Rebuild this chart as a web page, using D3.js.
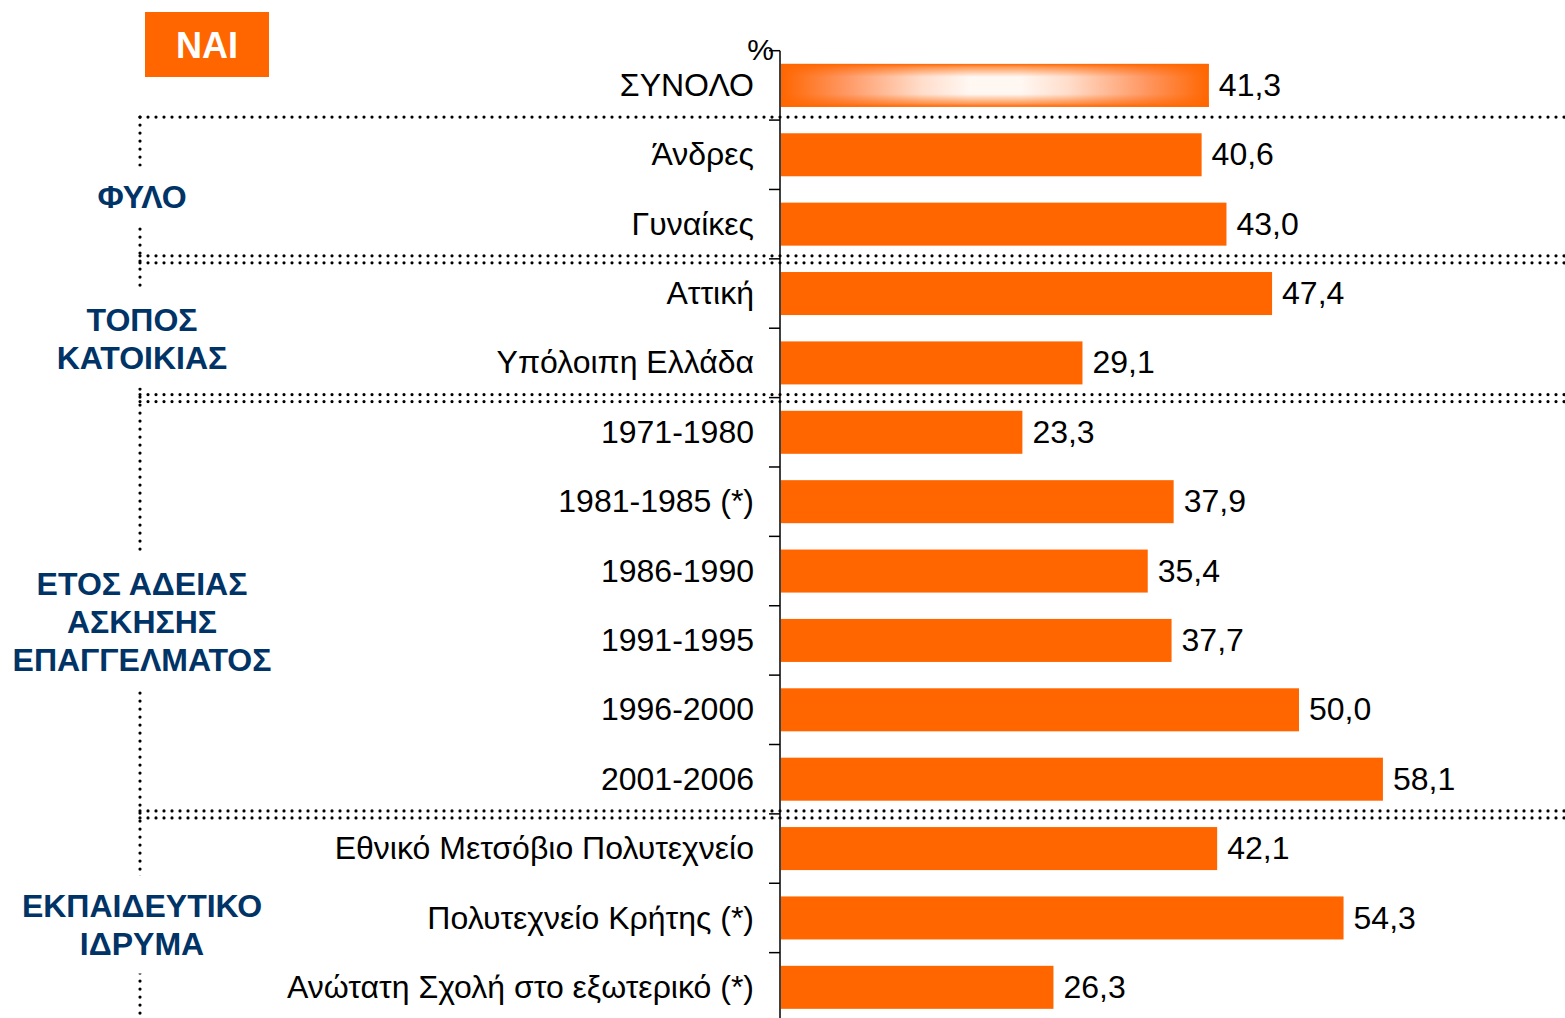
<!DOCTYPE html>
<meta charset="utf-8">
<script src="https://d3js.org/d3.v7.min.js"></script>
<style>
  body { margin: 0; background: #fff; }
  text { font-family: Arial, "Liberation Sans", sans-serif; }
</style>
<div id="chart"></div>
<script>
// categories and values (%)
var categories = ["ΣΥΝΟΛΟ", "Άνδρες", "Γυναίκες", "Αττική", "Υπόλοιπη Ελλάδα",
  "1971-1980", "1981-1985 (*)", "1986-1990", "1991-1995", "1996-2000", "2001-2006",
  "Εθνικό Μετσόβιο Πολυτεχνείο", "Πολυτεχνείο Κρήτης (*)", "Ανώτατη Σχολή στο εξωτερικό (*)"];
var values = [41.3, 40.6, 43.0, 47.4, 29.1, 23.3, 37.9, 35.4, 37.7, 50.0, 58.1, 42.1, 54.3, 26.3];

// groups: label lines and the category index where each group starts
var groupLabels = [["ΦΥΛΟ"], ["ΤΟΠΟΣ", "ΚΑΤΟΙΚΙΑΣ"], ["ΕΤΟΣ ΑΔΕΙΑΣ", "ΑΣΚΗΣΗΣ", "ΕΠΑΓΓΕΛΜΑΤΟΣ"], ["ΕΚΠΑΙΔΕΥΤΙΚΟ", "ΙΔΡΥΜΑ"]];
var groupStart = [1, 3, 5, 11];

var W = 1565, H = 1018;
var orange = "#FF6600", navy = "#003366";
var labelCenters = [196, 338, 621, 924];

var svg = d3.select("#chart").append("svg")
  .attr("width", W).attr("height", H);

var y = d3.scaleBand()
  .domain(categories)
  .range([50.7, 50.7 + 14 * 69.38])
  .paddingInner(0.38)
  .paddingOuter(0.19);

var x = d3.scaleLinear()
  .domain([0, 60])
  .range([781, 781 + 621.6]);

var step = y.step();
function boundary(i) { return y.range()[0] + i * step; }

// gradient for the total bar
var defs = svg.append("defs");
var gh = defs.append("linearGradient").attr("id", "gh");
[[0, orange], [0.15, "#ff9a68"], [0.33, "#ffe4d6"], [0.44, "#ffffff"], [0.56, "#ffffff"], [0.67, "#ffe4d6"], [0.85, "#ff9a68"], [1, orange]]
  .forEach(function(s) { gh.append("stop").attr("offset", s[0]).attr("stop-color", s[1]); });
var gv = defs.append("linearGradient").attr("id", "gv")
  .attr("x1", 0).attr("y1", 0).attr("x2", 0).attr("y2", 1);
[[0, 1], [0.08, 0.65], [0.3, 0.05], [0.7, 0.05], [0.92, 0.65], [1, 1]]
  .forEach(function(s) { gv.append("stop").attr("offset", s[0]).attr("stop-color", orange).attr("stop-opacity", s[1]); });

// dotted separators
var dots = svg.append("g")
  .attr("stroke", "#000")
  .attr("stroke-width", 3.2)
  .attr("stroke-linecap", "round")
  .attr("stroke-dasharray", "0 8")
  .attr("fill", "none");

groupStart.forEach(function(s, i) {
  var b = boundary(s);
  dots.append("line").attr("x1", 140).attr("x2", W + 10).attr("y1", b - 3).attr("y2", b - 3);
  if (i > 0) {
    dots.append("line").attr("x1", 140).attr("x2", W + 10).attr("y1", b + 4).attr("y2", b + 4);
  }
});
dots.append("line").attr("x1", 140).attr("x2", 140)
  .attr("y1", boundary(1) - 3).attr("y2", H + 10);

// group labels with white gap behind them
var gl = svg.append("g");
groupLabels.forEach(function(lines, i) {
  var lh = 38;
  var top = labelCenters[i] - (lines.length - 1) * lh / 2;
  var g = gl.append("g");
  var bg = g.append("rect").attr("fill", "#fff");
  var t = g.append("text")
    .attr("text-anchor", "middle")
    .attr("fill", navy)
    .attr("font-weight", "bold")
    .attr("font-size", 32);
  lines.forEach(function(l, j) {
    t.append("tspan").attr("x", 142).attr("y", top + j * lh).attr("dy", "0.36em").text(l);
  });
  var bb = t.node().getBBox();
  bg.attr("x", 125).attr("width", 30)
    .attr("y", bb.y - 12).attr("height", bb.height + 24);
});

// bars
svg.append("g").selectAll("rect")
  .data(values)
  .join("rect")
  .attr("x", x(0))
  .attr("y", function(d, i) { return y(categories[i]); })
  .attr("width", function(d) { return x(d) - x(0); })
  .attr("height", y.bandwidth())
  .attr("fill", function(d, i) { return i === 0 ? "url(#gh)" : orange; });

svg.append("rect")
  .attr("x", x(0))
  .attr("y", y(categories[0]))
  .attr("width", x(values[0]) - x(0))
  .attr("height", y.bandwidth())
  .attr("fill", "url(#gv)");

// value labels
svg.append("g").selectAll("text")
  .data(values)
  .join("text")
  .attr("x", function(d) { return x(d) + 10; })
  .attr("y", function(d, i) { return y(categories[i]) + y.bandwidth() / 2; })
  .attr("dy", "0.33em")
  .attr("font-size", 32)
  .attr("fill", "#000")
  .text(function(d) { return d3.format(".1f")(d).replace(".", ","); });

// axis
var axis = svg.append("g")
  .attr("transform", "translate(780,0)")
  .call(d3.axisLeft(y).tickSize(0).tickPadding(26));
axis.select(".domain").remove();
axis.selectAll("text").attr("font-size", 32).attr("fill", "#000").attr("dy", "0.33em")
  .attr("font-family", "Arial, 'Liberation Sans', sans-serif");

svg.append("line")
  .attr("x1", 780).attr("x2", 780)
  .attr("y1", boundary(0)).attr("y2", H + 10)
  .attr("stroke", "#000").attr("stroke-width", 1.5);

svg.append("g").selectAll("line")
  .data(d3.range(categories.length + 1))
  .join("line")
  .attr("x1", 769).attr("x2", 780)
  .attr("y1", function(i) { return boundary(i); })
  .attr("y2", function(i) { return boundary(i); })
  .attr("stroke", "#000").attr("stroke-width", 1.5);

svg.append("text")
  .attr("x", 774).attr("y", boundary(0) + 9)
  .attr("text-anchor", "end")
  .attr("font-size", 30)
  .text("%");

// NAI box
svg.append("rect")
  .attr("x", 145).attr("y", 12).attr("width", 124).attr("height", 65)
  .attr("fill", orange);
svg.append("text")
  .attr("x", 207).attr("y", 45).attr("dy", "0.36em")
  .attr("text-anchor", "middle")
  .attr("fill", "#fff").attr("font-weight", "bold").attr("font-size", 36)
  .text("NAI");
</script>
